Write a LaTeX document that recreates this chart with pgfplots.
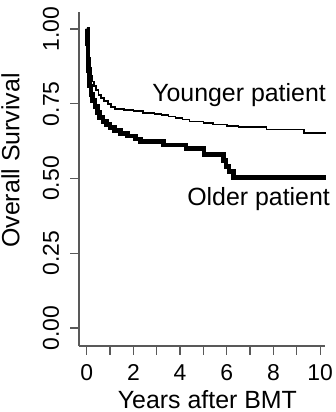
\documentclass[border=0pt]{standalone}
\usepackage{fontspec}
\setmainfont{Liberation Sans}
\usepackage{pgfplots}
\pgfplotsset{compat=1.18}
\begin{document}
\begin{tikzpicture}
\useasboundingbox (-79bp,-66bp) rectangle (257bp,346bp);
\begin{axis}[
  at={(0,0)}, anchor=south west,
  scale only axis, width=246bp, height=334bp,
  xmin=-0.33, xmax=10.21, ymin=-0.060, ymax=1.057,
  axis lines=left,
  axis line style={-, black!65, line width=1.4bp},
  tick style={black!65, line width=1.2bp},
  tick align=outside, major tick length=8.5bp,
  xtick={0,1,...,10}, xticklabels={0,,2,,4,,6,,8,,10},
  ytick={0,0.25,0.5,0.75,1}, yticklabels={0.00,0.25,0.50,0.75,1.00},
  /pgf/number format/assume math mode=true,
  ticklabel style={font=\fontsize{23}{27}\selectfont, inner sep=0pt},
  xticklabel style={yshift=-26bp, anchor=base},
  yticklabel style={xshift=-11.5bp, rotate=90, anchor=base},
  label style={font=\fontsize{25}{30}\selectfont, inner sep=0pt},
  xlabel={Years after BMT},
  xlabel style={at={([yshift=-62bp]axis description cs:0.522,0)}, anchor=base},
  ylabel={Overall Survival},
  ylabel style={at={([xshift=-59.7bp]axis description cs:0,0.5554)}, anchor=base},
  clip=false,
]
\addplot[const plot, black, line width=1.7bp] coordinates {
(0,1.00) (0.02,0.97) (0.05,0.93) (0.08,0.90) (0.12,0.87) (0.17,0.845)
(0.22,0.825) (0.3,0.81) (0.4,0.795) (0.5,0.78) (0.6,0.77) (0.75,0.76)
(0.9,0.75) (1.05,0.74) (1.2,0.733) (1.6,0.730) (2.0,0.725) (2.4,0.720)
(2.9,0.716) (3.2,0.712) (3.5,0.708) (3.8,0.702) (4.1,0.697) (4.4,0.691)
(5.0,0.686) (5.4,0.681) (6.0,0.676) (6.5,0.672) (7.7,0.664) (9.3,0.652)
(10.25,0.652)
};
\addplot[const plot, black, line width=4.7bp] coordinates {
(0,1.00) (0.02,0.95) (0.05,0.90) (0.08,0.86) (0.12,0.81) (0.18,0.78)
(0.25,0.76) (0.35,0.74) (0.45,0.72) (0.55,0.705) (0.7,0.69) (0.85,0.68)
(1.0,0.67) (1.2,0.66) (1.45,0.65) (1.75,0.642) (2.1,0.632) (2.3,0.624)
(3.3,0.612) (4.25,0.600) (5.02,0.580) (5.85,0.560) (5.97,0.540) (6.1,0.524)
(6.3,0.503) (10.25,0.503)
};
\node[anchor=base west, inner sep=0pt, font=\fontsize{25}{30}\selectfont] at (axis cs:2.80,0.757) {Younger patient};
\node[anchor=base west, inner sep=0pt, font=\fontsize{25}{30}\selectfont] at (axis cs:4.30,0.411) {Older patient};
\end{axis}
\end{tikzpicture}
\end{document}
